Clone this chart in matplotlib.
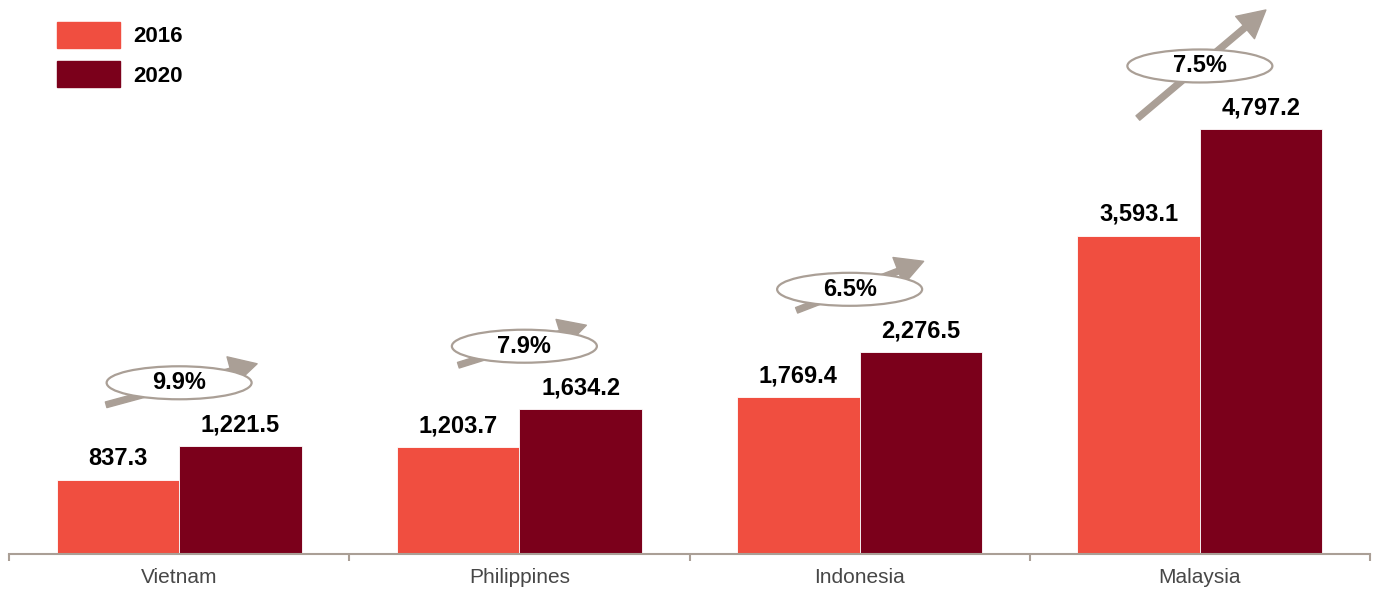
import numpy as np
import matplotlib.pyplot as plt
from matplotlib.patches import Ellipse, FancyArrowPatch, Patch
from matplotlib.transforms import IdentityTransform

countries = ['Vietnam', 'Philippines', 'Indonesia', 'Malaysia']
years = ['2016', '2020']
values_2016 = [837.3, 1203.7, 1769.4, 3593.1]
values_2020 = [1221.5, 1634.2, 2276.5, 4797.2]
growth = ['9.9%', '7.9%', '6.5%', '7.5%']

# layout of the growth badges (pixels, relative to the 2020 bar top)
badge_dx = [0, 5, -10, 0]
arrow_tail = [(-73, -22), (-66, -19), (-53, -21), (-62, -52)]
arrow_tip = [(78, 19), (62, 21), (74, 28), (66, 56)]

c2016 = '#f04e40'
c2020 = '#7b001b'
grey = '#aa9f96'

fig = plt.figure(figsize=(13.74, 5.91), dpi=100)
W, H = 1374, 591
ax = fig.add_axes([9 / W, 37 / H, 1361 / W, 554 / H])

x = np.arange(len(countries))
w = 0.36
b1 = ax.bar(x - w / 2, values_2016, w, color=c2016, edgecolor='white', linewidth=0.6, label=years[0])
b2 = ax.bar(x + w / 2, values_2020, w, color=c2020, edgecolor='white', linewidth=0.6, label=years[1])

ax.set_xlim(-0.5, 3.5)
ax.set_ylim(0, 6253)

lab_font = dict(family='Liberation Sans', weight='bold', size=17)
ax.bar_label(b1, labels=[f'{v:,.1f}' for v in values_2016], padding=7, **lab_font)
ax.bar_label(b2, labels=[f'{v:,.1f}' for v in values_2020], padding=7, **lab_font)

for s in ['left', 'right', 'top']:
    ax.spines[s].set_visible(False)
ax.spines['bottom'].set_color(grey)
ax.spines['bottom'].set_linewidth(1.5)
ax.set_yticks([])
ax.set_xticks(np.arange(-0.5, 4, 1))
ax.set_xticklabels([])
ax.tick_params(axis='x', which='major', length=5, width=1.5, color=grey, direction='out')
ax.set_xticks(x, minor=True)
ax.set_xticklabels(countries, minor=True, family='Liberation Sans', size=15, color='#474747')
ax.tick_params(axis='x', which='minor', length=0, pad=10)

# growth badges: arrow behind a white ellipse with the CAGR text
for i in range(len(countries)):
    px, py = ax.transData.transform((x[i], values_2020[i]))
    cx, cy = px + badge_dx[i], py + 63
    tail = (cx + arrow_tail[i][0], cy + arrow_tail[i][1])
    tip = (cx + arrow_tip[i][0], cy + arrow_tip[i][1])
    arr = FancyArrowPatch(tail, tip, arrowstyle='simple,head_length=1.4,head_width=1.5,tail_width=0.3',
                          mutation_scale=14, color=grey, transform=IdentityTransform(),
                          shrinkA=0, shrinkB=0, zorder=3)
    fig.add_artist(arr)
    ell = Ellipse((cx, cy), 145, 33, facecolor='white', edgecolor=grey, linewidth=1.6,
                  transform=IdentityTransform(), zorder=4)
    fig.add_artist(ell)
    fig.text(cx / W, cy / H, growth[i], ha='center', va='center', zorder=5,
             family='Liberation Sans', weight='bold', size=17)

handles = [Patch(color=c2016), Patch(color=c2020)]
fig.legend(handles, years, loc='upper left', bbox_to_anchor=(57 / W, 1 - 22 / H),
           frameon=False, borderpad=0, borderaxespad=0, handlelength=2.85, handleheight=1.4,
           handletextpad=0.6, labelspacing=0.62,
           prop=dict(family='Liberation Sans', weight='bold', size=16))

fig.savefig('out.png', dpi=100)
